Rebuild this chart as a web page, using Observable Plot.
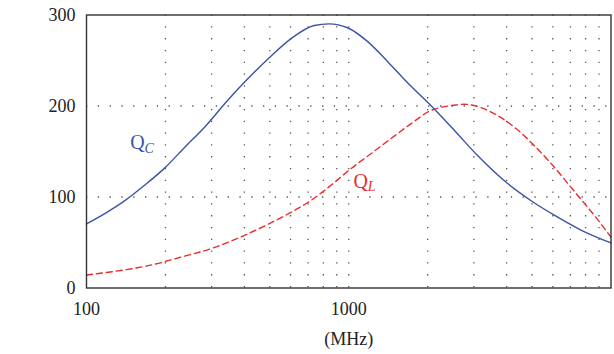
<!DOCTYPE html>
<html>
<head>
<meta charset="utf-8">
<script src="https://cdn.jsdelivr.net/npm/d3@7"></script>
<script src="https://cdn.jsdelivr.net/npm/@observablehq/plot@0.6"></script>
<style>
  html, body { margin: 0; padding: 0; background: #fff; }
</style>
</head>
<body>
<div id="chart"></div>
<script>
// Q_C (blue, solid)
const freqC = [100,  117,  140, 166,   199, 237,   282,   345, 400, 500,   601,   738,   842,   989, 1178, 1405, 1676,  2056,  2550, 3098,  4037,  5025, 6080, 7680,  10000];
const qC    = [70.5, 81.5, 96,  112.6, 132, 154.7, 176.7, 206, 226, 253.6, 273.8, 288.5, 290.3, 286, 271,  249,  225.5, 200.5, 172,  145.6, 114.8, 94.8, 80,   63.7,  49.5];
// Q_L (red, dashed)
const freqL = [100,  200,  228,  297, 387, 482,  601, 716, 853,   1018, 1214,  1446, 1725,  2056, 2600,  2750, 3006,  3590,  4280,  5095,  6080,  7030,  8140,  9160,  10000];
const qL    = [14.3, 29.1, 33.8, 43,  56,  68.7, 83,  96,  112.6, 131,  147.5, 164,  180.4, 195,  201.3, 202,  200.5, 191.4, 176.7, 156.6, 132.7, 110.8, 88.8,  70.5,  55.8];

const xTicks = [100, 1000];
const yTicks = [0, 100, 200, 300];
const xGrid = [200, 300, 400, 500, 600, 700, 800, 900, 1000, 2000, 3000, 4000, 5000, 6000, 7000, 8000, 9000];
const yGrid = [100, 200];

const labels = [
  {f: 156.6, q: 159.3, main: "Q", sub: "C", color: "#3b54a5"},
  {f: 1112, q: 117, main: "Q", sub: "L", color: "#ec2b2b"}
];

const dataC = freqC.map((f, i) => ({f, q: qC[i]}));
const dataL = freqL.map((f, i) => ({f, q: qL[i]}));

const serif = "'Liberation Serif', 'DejaVu Serif', serif";

const chart = Plot.plot({
  width: 614,
  height: 354,
  marginLeft: 86,
  marginRight: 3.5,
  marginTop: 14.5,
  marginBottom: 66.5,
  style: {fontFamily: serif, fontSize: "18px", color: "#222", background: "#fff"},
  x: {type: "log", domain: [100, 10000]},
  y: {domain: [0, 300]},
  marks: [
    Plot.ruleX(xGrid, {stroke: "#555", strokeWidth: 1.3, strokeDasharray: "1.3,10.5"}),
    Plot.ruleY(yGrid, {stroke: "#555", strokeWidth: 1.3, strokeDasharray: "1.3,10.5"}),
    Plot.axisY({ticks: yTicks, tickSize: 0, tickPadding: 11, label: null, fontSize: 18, tickFormat: d => String(d)}),
    Plot.axisX({ticks: xTicks, tickSize: 0, tickPadding: 14, label: null, fontSize: 18, tickFormat: d => String(d)}),
    Plot.line(dataL, {x: "f", y: "q", curve: "monotone-x", stroke: "#ec2b2b", strokeWidth: 1.4, strokeDasharray: "6,4"}),
    Plot.line(dataC, {x: "f", y: "q", curve: "monotone-x", stroke: "#3b54a5", strokeWidth: 1.4}),
    Plot.text(labels, {x: "f", y: "q", text: "main", fill: "color", fontSize: 20, fontFamily: serif, textAnchor: "middle"}),
    Plot.text(labels, {x: "f", y: "q", text: "sub", fill: "color", fontSize: 14, fontStyle: "italic", fontFamily: serif, textAnchor: "start", dx: 7, dy: 5}),
    Plot.text(["(MHz)"], {frameAnchor: "bottom", text: d => d, dy: 57, fontSize: 18, fontFamily: serif, fill: "#222"}),
    Plot.frame({stroke: "#333", strokeWidth: 1.4})
  ]
});
document.getElementById("chart").appendChild(chart);
</script>
</body>
</html>
